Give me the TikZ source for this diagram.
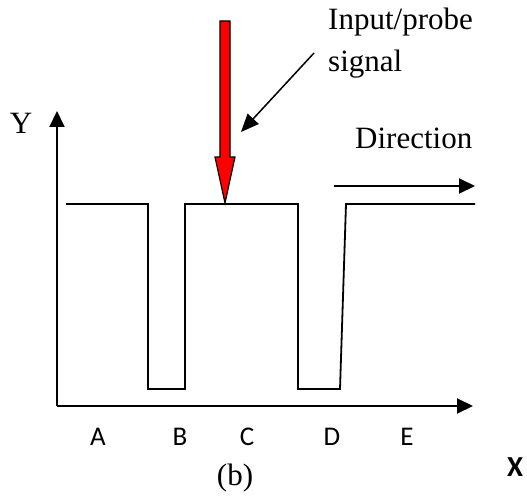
\documentclass[tikz,border=0pt]{standalone}
\usepackage{fontspec}
\setmainfont{Liberation Serif}
\newfontfamily\calfont{Carlito}
\usetikzlibrary{arrows.meta}
\tikzset{
  lbl/.style={font=\fontsize{31}{36}\selectfont,inner sep=0pt},
  seglbl/.style={font=\calfont\fontsize{27}{30}\selectfont,inner sep=0pt},
  axis/.style={line width=2pt,-{Triangle[length=16pt,width=15pt]}},
  wave/.style={line width=1.8pt,line join=miter},
}
\begin{document}
\begin{tikzpicture}[x=1pt,y=-1pt]
			\useasboundingbox (0,0) rectangle (527,500);
			\coordinate (O) at (57,406);
			\coordinate (ytip) at (57,111);
			\coordinate (xtip) at (473,406);
			\draw[axis] (O) -- (ytip);
			\draw[axis] (O) -- (xtip);
			\draw[wave] (66,204) -- (148,204) -- (148,389) -- (185,389) -- (185,204) -- (298,204)
				-- (298,389) -- (340,389) -- (346,204) -- (475,204);
			\draw[axis] (334,186) coordinate (dirs) -- (475,186) coordinate (dire);
			% probe signal
			\draw[line width=1.2pt,fill=red,line join=miter] (220,21) -- (230,21) -- (230,157) -- (235,157)
				-- (225,203) coordinate (hit) -- (215,157) -- (220,157) -- cycle;
			\node[lbl,anchor=base west] (probe) at (328,30) {Input/probe};
			\node[lbl,anchor=base west] (sig) at (328,72) {signal};
			\coordinate (ptail) at (314,53);
			\coordinate (phead) at (241,132);
			\draw[line width=1.5pt,-{Triangle[length=18pt,width=15pt]}] (ptail) -- (phead);
			\node[lbl,anchor=base west] (dir) at (355,148) {Direction};
			\node[lbl,anchor=base] (ylab) at (21,133) {Y};
			\node[seglbl,anchor=base] (A) at (98,445) {A};
			\node[seglbl,anchor=base] (B) at (180,445) {B};
			\node[seglbl,anchor=base] (C) at (247,445) {C};
			\node[seglbl,anchor=base] (D) at (332,445) {D};
			\node[seglbl,anchor=base] (E) at (407,445) {E};
			\node[lbl,anchor=base] (cap) at (235,485) {(b)};
			\node[seglbl,font=\calfont\bfseries\fontsize{29}{30}\selectfont,anchor=base west] (xlab) at (507,476) {X};
		\end{tikzpicture}
\end{document}
